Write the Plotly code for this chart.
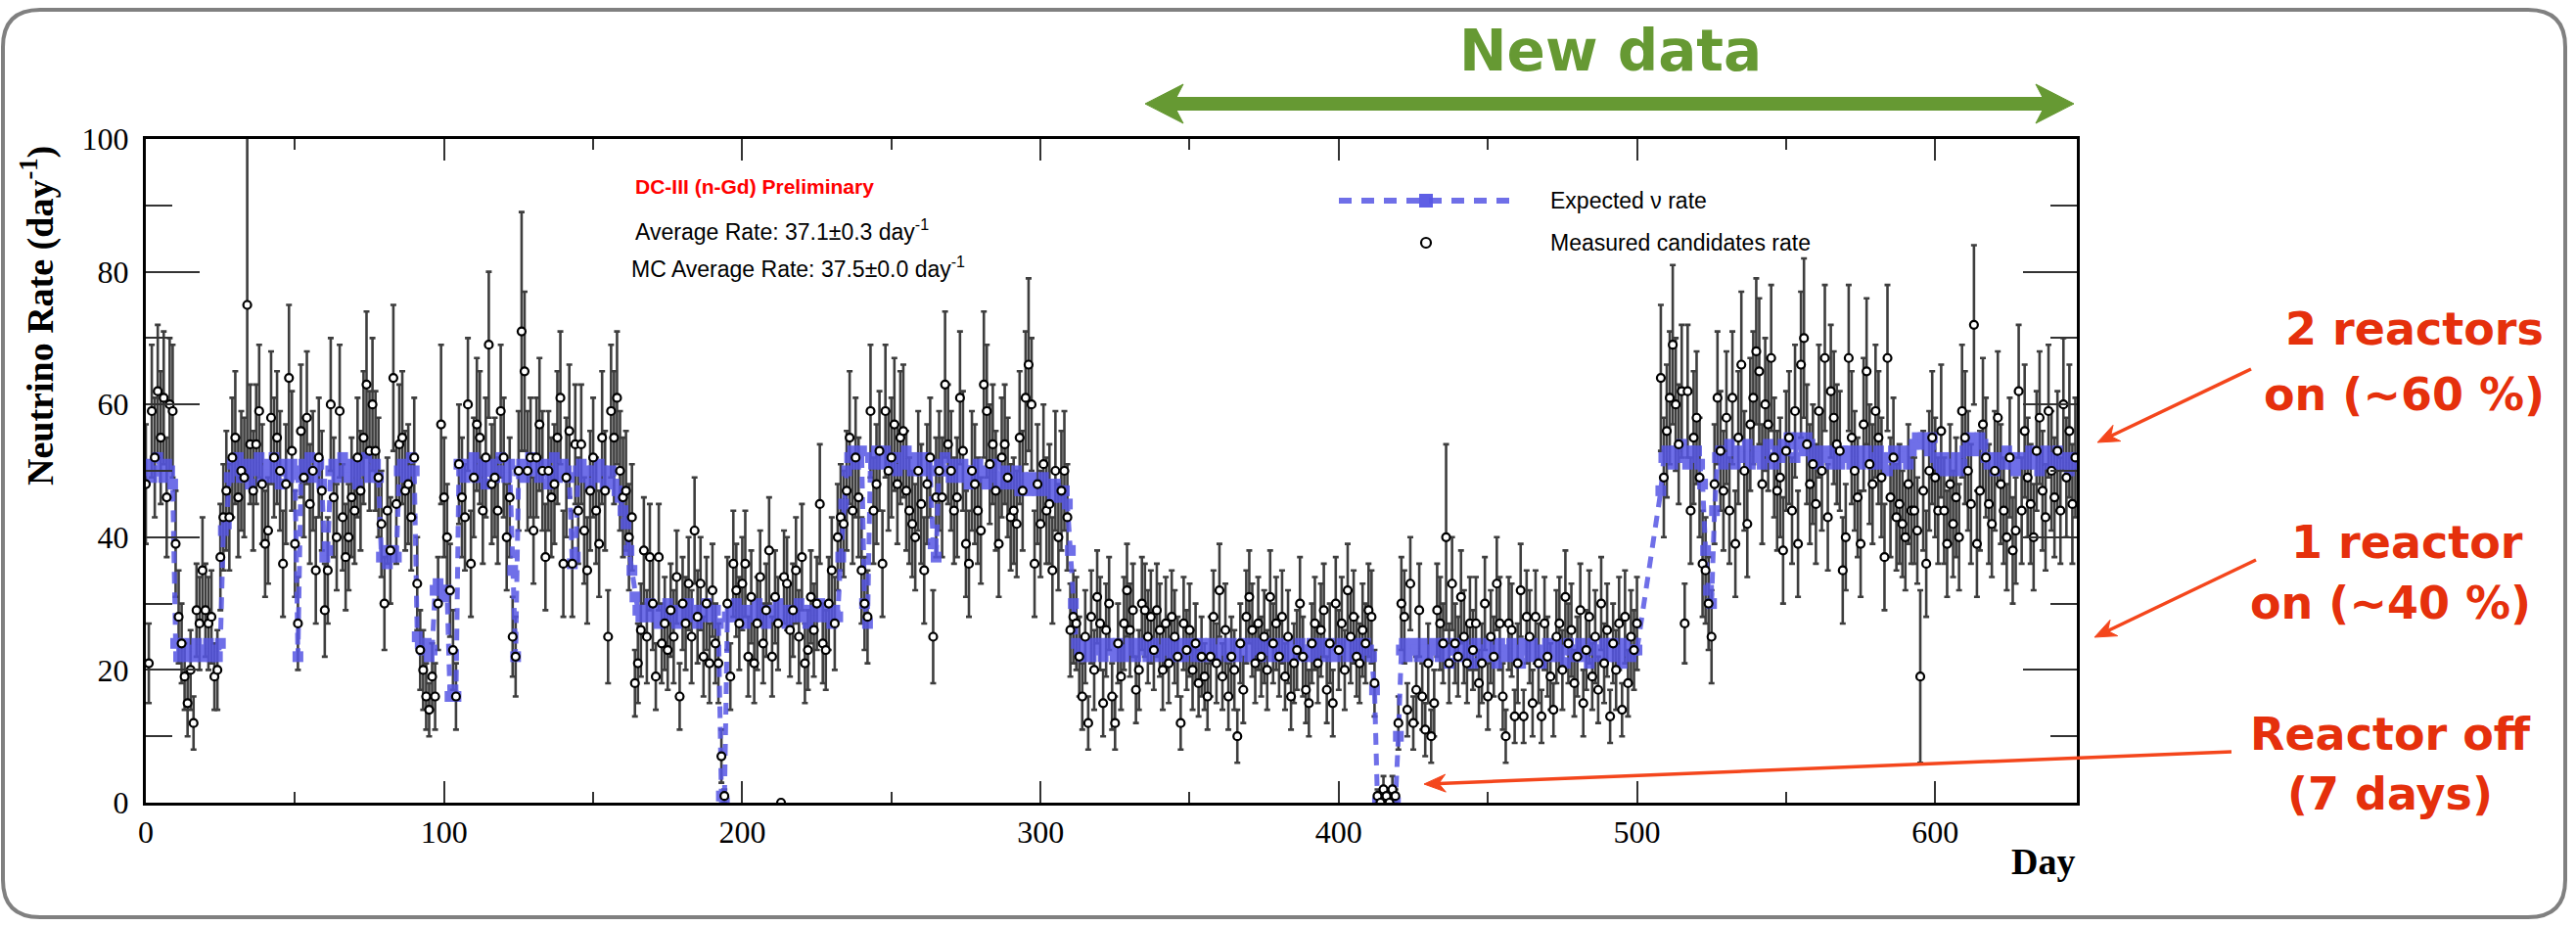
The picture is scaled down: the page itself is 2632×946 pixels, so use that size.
import math
import plotly.graph_objects as go

# ---------------- data ----------------
# measured candidate rate per day (None = no data)
measured = [
    48, 21, 59, 52, 62, 55, 61, 46, 60, 59,
    39, 28, 24, 19, 15, 20, 12, 29, 27, 35,
    29, 27, 28, 19, 20, 37, 43, 47, 43, 52,
    55, 46, 50, 49, 75, 54, 47, 54, 59, 48,
    39, 41, 58, 52, 55, 50, 36, 48, 64, 53,
    39, 27, 56, 49, 58, 45, 50, 35, 52, 47,
    29, 35, 60, 46, 40, 59, 43, 37, 40, 46,
    44, 52, 47, 55, 63, 53, 60, 53, 49, 42,
    30, 44, 38, 64, 45, 54, 55, 47, 48, 43,
    52, 33, 23, 20, 16, 14, 19, 16, 30, 57,
    46, 40, 32, 23, 16, 51, 46, 43, 60, 36,
    49, 57, 55, 44, 52, 69, 48, 49, 44, 59,
    52, 40, 46, 25, 22, 50, 71, 65, 50, 52,
    41, 52, 57, 50, 37, 50, 46, 48, 55, 61,
    36, 49, 56, 36, 54, 44, 54, 41, 35, 47,
    52, 44, 39, 55, 47, 25, 59, 55, 61, 50,
    46, 47, 40, 43, 18, 21, 26, 38, 25, 37,
    30, 19, 37, 24, 27, 23, 29, 25, 34, 16,
    30, 27, 33, 25, 41, 28, 33, 22, 30, 21,
    32, 24, 21, 7, 1, 30, 19, 36, 32, 27,
    33, 36, 22, 31, 21, 27, 34, 24, 29, 38,
    22, 31, 27, 0, 34, 33, 26, 29, 35, 25,
    37, 21, 23, 31, 26, 30, 45, 24, 23, 30,
    35, 27, 40, 43, 42, 47, 55, 44, 52, 46,
    35, 30, 28, 59, 44, 48, 53, 36, 59, 50,
    52, 57, 48, 55, 56, 47, 44, 42, 40, 50,
    45, 35, 48, 52, 25, 46, 50, 46, 63, 54,
    50, 44, 46, 61, 53, 39, 36, 50, 48, 44,
    41, 63, 59, 51, 54, 47, 39, 52, 54, 49,
    43, 44, 42, 55, 47, 61, 66, 60, 36, 48,
    42, 51, 44, 45, 35, 50, 40, 47, 50, 43,
    26, 28, 27, 22, 16, 25, 12, 28, 20, 31,
    27, 15, 26, 30, 16, 12, 24, 19, 27, 32,
    26, 29, 17, 20, 30, 29, 25, 28, 23, 29,
    26, 20, 27, 21, 28, 25, 22, 12, 27, 23,
    26, 20, 24, 18, 22, 19, 16, 22, 28, 21,
    32, 19, 26, 16, 22, 20, 10, 24, 17, 28,
    31, 26, 21, 27, 22, 25, 20, 31, 24, 27,
    22, 28, 19, 25, 16, 21, 23, 30, 22, 17,
    15, 24, 27, 21, 26, 29, 17, 24, 15, 30,
    23, 27, 20, 32, 25, 28, 22, 21, 26, 24,
    29, 28, 18, 1, 0, 2, 1, 0, 2, 1,
    12, 30, 28, 14, 33, 12, 17, 29, 16, 11,
    21, 10, 15, 29, 27, 24, 40, 21, 33, 24,
    22, 31, 25, 21, 27, 23, 27, 18, 21, 30,
    16, 25, 22, 33, 27, 16, 10, 27, 26, 13,
    21, 32, 13, 28, 25, 15, 28, 21, 13, 27,
    22, 19, 14, 25, 27, 20, 31, 24, 26, 18,
    22, 29, 15, 23, 28, 19, 25, 17, 30, 21,
    26, 13, 24, 20, 27, 14, 28, 18, 25, 23,
    27, None, None, None, None, None, None, None, 64, 49,
    56, 61, 69, 60, 54, 62, 27, 62, 44, 55,
    58, 49, 36, 35, 30, 25, 48, 61, 53, 47,
    58, 44, 61, 39, 55, 66, 50, 42, 57, 61,
    68, 65, 48, 60, 57, 67, 52, 47, 49, 38,
    53, 55, 44, 59, 39, 66, 70, 54, 48, 51,
    45, 59, 50, 67, 43, 62, 58, 54, 53, 35,
    40, 67, 55, 50, 46, 39, 57, 65, 51, 48,
    59, 55, 49, 37, 67, 46, 52, 43, 45, 42,
    40, 48, 44, 44, 41, 19, 47, 36, 50, 55,
    49, 44, 56, 44, 39, 48, 42, 46, 40, 59,
    55, 50, 45, 72, 39, 47, 57, 52, 45, 42,
    50, 58, 48, 44, 40, 52, 38, 41, 62, 44,
    56, 49, 45, 40, 53, 58, 47, 43, 59, 50,
    46, 53, 44, 60, 49, 56, 45, 52,
]

# statistical error of the measured rate per day
errors = [
    9, 6, 10, 9, 10, 10, 10, 9, 10, 10,
    8, 7, 6, 5, 5, 6, 4, 7, 7, 8,
    7, 7, 7, 5, 6, 8, 8, 9, 8, 9,
    10, 9, 9, 9, 26, 9, 9, 9, 10, 9,
    8, 8, 10, 9, 10, 9, 8, 9, 11, 9,
    8, 7, 10, 9, 10, 9, 9, 8, 9, 9,
    7, 8, 10, 9, 8, 10, 8, 8, 8, 9,
    8, 9, 9, 10, 11, 9, 10, 9, 9, 8,
    7, 8, 8, 11, 9, 9, 10, 9, 9, 8,
    9, 7, 6, 6, 5, 4, 5, 5, 7, 12,
    9, 8, 7, 6, 5, 9, 9, 8, 10, 8,
    9, 10, 10, 8, 9, 11, 9, 9, 8, 10,
    9, 8, 9, 6, 6, 9, 18, 12, 9, 9,
    8, 9, 10, 9, 8, 9, 9, 9, 10, 10,
    8, 9, 10, 8, 9, 8, 9, 8, 8, 9,
    9, 8, 8, 10, 9, 7, 10, 10, 10, 9,
    9, 9, 8, 8, 5, 6, 7, 8, 7, 8,
    7, 5, 8, 6, 7, 6, 7, 7, 7, 5,
    7, 7, 7, 7, 8, 7, 7, 6, 7, 6,
    7, 6, 6, 4, 1, 7, 5, 8, 7, 7,
    7, 8, 6, 7, 6, 7, 7, 6, 7, 8,
    6, 7, 7, 0, 7, 7, 7, 7, 8, 7,
    8, 6, 6, 7, 7, 7, 9, 6, 6, 7,
    8, 7, 8, 8, 8, 9, 10, 8, 9, 9,
    8, 7, 7, 10, 8, 9, 9, 8, 10, 9,
    9, 10, 9, 10, 10, 9, 8, 8, 8, 9,
    9, 8, 9, 9, 7, 9, 9, 9, 11, 9,
    9, 8, 9, 10, 9, 8, 8, 9, 9, 8,
    8, 11, 10, 9, 9, 9, 8, 9, 9, 9,
    8, 8, 8, 10, 9, 10, 13, 10, 8, 9,
    8, 9, 8, 9, 8, 9, 8, 9, 9, 8,
    7, 7, 7, 6, 5, 7, 4, 7, 6, 7,
    7, 5, 7, 7, 5, 4, 6, 5, 7, 7,
    7, 7, 5, 6, 7, 7, 7, 7, 6, 7,
    7, 6, 7, 6, 7, 7, 6, 4, 7, 6,
    7, 6, 6, 5, 6, 5, 5, 6, 7, 6,
    7, 5, 7, 5, 6, 6, 4, 6, 5, 7,
    7, 7, 6, 7, 6, 7, 6, 7, 6, 7,
    6, 7, 5, 7, 5, 6, 6, 7, 6, 5,
    5, 6, 7, 6, 7, 7, 5, 6, 5, 7,
    6, 7, 6, 7, 7, 7, 6, 6, 7, 6,
    7, 7, 5, 1, 1, 2, 1, 1, 2, 1,
    4, 7, 7, 4, 7, 4, 5, 7, 5, 4,
    6, 4, 5, 7, 7, 6, 14, 6, 7, 6,
    6, 7, 7, 6, 7, 6, 7, 5, 6, 7,
    5, 7, 6, 7, 7, 5, 4, 7, 7, 4,
    6, 7, 4, 7, 7, 5, 7, 6, 4, 7,
    6, 5, 4, 7, 7, 6, 7, 6, 7, 5,
    6, 7, 5, 6, 7, 5, 7, 5, 7, 6,
    7, 4, 6, 6, 7, 4, 7, 5, 7, 6,
    7, None, None, None, None, None, None, None, 11, 9,
    10, 10, 12, 10, 9, 10, 6, 10, 8, 10,
    10, 9, 8, 8, 7, 7, 9, 10, 9, 9,
    10, 8, 10, 8, 10, 11, 9, 8, 10, 10,
    11, 11, 9, 10, 10, 11, 9, 9, 9, 8,
    9, 10, 8, 10, 8, 11, 12, 9, 9, 9,
    9, 10, 9, 11, 8, 10, 10, 9, 9, 8,
    8, 11, 10, 9, 9, 8, 10, 11, 9, 9,
    10, 10, 9, 8, 11, 9, 9, 8, 9, 8,
    8, 9, 8, 8, 8, 13, 9, 8, 9, 10,
    9, 8, 10, 8, 8, 9, 8, 9, 8, 10,
    10, 9, 9, 12, 8, 9, 10, 9, 9, 8,
    9, 10, 9, 8, 8, 9, 8, 8, 10, 8,
    10, 9, 9, 8, 9, 10, 9, 8, 10, 9,
    9, 9, 8, 10, 9, 10, 9, 9,
]

# expected (MC) neutrino rate per day
expected = [
    50, 51, 49, 50, 52, 50, 49, 51, 50, 48,
    24, 22, 23, 24, 22, 23, 22, 24, 23, 22,
    23, 24, 22, 23, 22, 24, 41, 42, 49, 51,
    50, 52, 49, 51, 50, 48, 51, 50, 52, 49,
    50, 51, 49, 52, 50, 48, 51, 50, 49, 51,
    50, 22, 49, 51, 50, 52, 49, 50, 51, 48,
    37, 38, 50, 51, 49, 50, 52, 50, 49, 51,
    50, 48, 51, 50, 52, 49, 50, 51, 49, 37,
    38, 36, 37, 38, 37, 50, 51, 49, 50, 52,
    50, 25, 24, 23, 24, 22, 23, 32, 33, 32,
    31, 32, 16, 17, 16, 51, 50, 49, 51, 50,
    52, 49, 50, 51, 48, 50, 51, 49, 50, 52,
    50, 49, 51, 35, 22, 50, 51, 49, 50, 52,
    50, 51, 49, 50, 51, 48, 50, 52, 49, 50,
    51, 50, 49, 36, 37, 50, 51, 49, 50, 48,
    50, 49, 51, 50, 48, 49, 50, 48, 47, 46,
    44, 42, 38, 35, 31, 29, 28, 29, 28, 30,
    29, 28, 27, 29, 28, 30, 28, 29, 27, 28,
    29, 28, 30, 29, 28, 27, 29, 28, 30, 29,
    28, 29, 27, 1, 0, 28, 29, 28, 30, 28,
    29, 27, 28, 29, 28, 30, 29, 28, 27, 29,
    28, 29, 30, 28, 29, 27, 28, 29, 28, 30,
    29, 28, 27, 29, 28, 29, 30, 28, 29, 28,
    27, 29, 28, 37, 45, 50, 52, 53, 51, 52,
    53, 30, 27, 52, 51, 53, 52, 51, 53, 52,
    51, 52, 50, 52, 51, 53, 51, 50, 52, 51,
    50, 52, 51, 50, 39, 37, 51, 50, 52, 50,
    49, 51, 50, 49, 51, 50, 48, 50, 49, 51,
    50, 49, 48, 50, 49, 51, 48, 49, 50, 48,
    49, 48, 50, 47, 49, 48, 47, 49, 48, 47,
    48, 49, 47, 48, 46, 48, 47, 46, 47, 45,
    38, 30, 24, 23, 22, 24, 23, 22, 24, 23,
    24, 22, 23, 24, 23, 22, 24, 23, 22, 23,
    24, 23, 22, 24, 23, 24, 22, 23, 24, 23,
    22, 23, 24, 23, 22, 24, 23, 24, 22, 23,
    24, 23, 22, 23, 24, 22, 23, 24, 23, 22,
    23, 24, 23, 22, 24, 23, 22, 23, 24, 23,
    22, 24, 23, 24, 22, 23, 24, 23, 22, 23,
    24, 23, 22, 24, 23, 22, 23, 24, 23, 22,
    23, 24, 22, 23, 24, 23, 22, 24, 23, 22,
    23, 24, 23, 22, 24, 23, 24, 22, 23, 24,
    23, 22, 17, 0, 0, 0, 0, 0, 0, 0,
    10, 23, 24, 22, 23, 24, 23, 22, 24, 23,
    22, 23, 24, 23, 22, 24, 23, 21, 23, 24,
    22, 23, 24, 22, 23, 21, 24, 23, 22, 23,
    24, 22, 23, 21, 24, 23, 22, 23, 24, 22,
    23, 21, 24, 23, 22, 24, 23, 22, 21, 23,
    24, 22, 23, 24, 22, 23, 21, 24, 23, 22,
    23, 24, 22, 23, 21, 24, 23, 22, 23, 24,
    22, 23, 24, 22, 23, 21, 24, 23, 22, 23,
    23, None, None, None, None, None, None, None, 47, 52,
    53, 52, 51, 53, 52, 54, 52, 51, 53, 52,
    53, 51, 48, 38, 32, 30, 44, 52, 53, 51,
    52, 54, 53, 51, 52, 53, 52, 54, 51, 52,
    53, 52, 51, 53, 54, 52, 51, 53, 52, 54,
    53, 55, 54, 52, 55, 54, 53, 55, 54, 52,
    53, 51, 52, 53, 52, 51, 53, 52, 51, 53,
    52, 53, 51, 52, 53, 51, 52, 53, 52, 51,
    52, 53, 51, 52, 50, 52, 53, 51, 52, 53,
    52, 51, 53, 54, 55, 54, 55, 54, 53, 55,
    52, 51, 50, 52, 51, 50, 51, 52, 50, 51,
    53, 54, 55, 53, 54, 55, 54, 52, 51, 52,
    50, 51, 52, 51, 53, 52, 51, 50, 52, 51,
    52, 51, 53, 52, 51, 50, 52, 53, 51, 52,
    51, 53, 52, 51, 52, 50, 52, 51,
]

days = list(range(len(measured)))

x_ticks = [0, 100, 200, 300, 400, 500, 600]
y_ticks = [0, 20, 40, 60, 80, 100]

# ---------------- layout geometry (pixels) ----------------
FIG_W, FIG_H = 2632, 946
L, R, T, B = 149, 2122, 142, 820
PW, PH = R - L, B - T


def px(x):
    return (x - L) / PW


def py(y):
    return (B - y) / PH


BLUE = "#5656e4"
GREEN = "#669933"
RED_TXT = "#e5300c"
RED_ARR = "#f4461c"

fig = go.Figure()

# error bars (drawn first)
fig.add_trace(go.Scatter(
    x=days, y=measured, mode="markers",
    marker=dict(size=2, color="rgba(0,0,0,0)"),
    error_y=dict(type="data", array=errors, visible=True,
                 color="#3e3e3e", thickness=2.6, width=3),
    showlegend=False, hoverinfo="skip",
))

# expected rate
fig.add_trace(go.Scatter(
    x=days, y=expected, mode="lines+markers", connectgaps=True,
    line=dict(color=BLUE, width=5, dash="12px,9px"),
    marker=dict(symbol="square", size=11, color=BLUE),
    opacity=0.85, showlegend=False,
))

# measured points
fig.add_trace(go.Scatter(
    x=days, y=measured, mode="markers",
    marker=dict(symbol="circle", size=8, color="white",
                line=dict(color="black", width=2.2)),
    showlegend=False,
))

axis_common = dict(
    showline=True, linecolor="black", linewidth=3, mirror="allticks",
    ticks="inside", tickwidth=2, tickcolor="#333333",
    showgrid=False, zeroline=False,
    tickfont=dict(family="Liberation Serif", size=32, color="black"),
)

fig.update_xaxes(range=[0, 647.5], tickvals=x_ticks, ticklen=22,
                 minor=dict(dtick=50, tick0=0, ticklen=11, tickwidth=2,
                            tickcolor="#333333", ticks="inside", showgrid=False),
                 **axis_common)
fig.update_yaxes(range=[0, 100], tickvals=y_ticks, ticklen=55,
                 ticklabelstandoff=8,
                 minor=dict(dtick=10, tick0=0, ticklen=27, tickwidth=2,
                            tickcolor="#333333", ticks="inside", showgrid=False),
                 **axis_common)

shapes = []

# outer rounded frame
x0, y0, x1, y1, rr = 3, 10, 2621, 937, 38
frame_path = (
    f"M {px(x0 + rr)},{py(y0)} L {px(x1 - rr)},{py(y0)} "
    f"Q {px(x1)},{py(y0)} {px(x1)},{py(y0 + rr)} "
    f"L {px(x1)},{py(y1 - rr)} Q {px(x1)},{py(y1)} {px(x1 - rr)},{py(y1)} "
    f"L {px(x0 + rr)},{py(y1)} Q {px(x0)},{py(y1)} {px(x0)},{py(y1 - rr)} "
    f"L {px(x0)},{py(y0 + rr)} Q {px(x0)},{py(y0)} {px(x0 + rr)},{py(y0)} Z"
)
shapes.append(dict(type="path", xref="paper", yref="paper", path=frame_path,
                   line=dict(color="#808080", width=4), layer="below"))

# green double arrow
pts = [(1170, 106), (1209, 86), (1202, 99.5), (2087, 99.5), (2080, 86),
       (2119, 106), (2080, 126), (2087, 112.5), (1202, 112.5), (1209, 126)]
arrow_path = "M " + " L ".join(f"{px(a)},{py(b)}" for a, b in pts) + " Z"
shapes.append(dict(type="path", xref="paper", yref="paper", path=arrow_path,
                   fillcolor=GREEN, line=dict(color=GREEN, width=1)))

# red arrows (line + barbed head)
for (tx, ty, hx, hy) in [(2300, 377, 2143, 452), (2305, 572, 2140, 651),
                         (2280, 768, 1455, 801)]:
    dx, dy = tx - hx, ty - hy
    ln = math.hypot(dx, dy)
    ux, uy = dx / ln, dy / ln          # unit vector head -> tail
    nx, ny = -uy, ux                   # normal
    hl, hw, notch = 22, 9, 15
    bx, by = hx + ux * hl, hy + uy * hl
    mx, my = hx + ux * notch, hy + uy * notch
    shapes.append(dict(type="line", xref="paper", yref="paper",
                       x0=px(tx), y0=py(ty), x1=px(mx), y1=py(my),
                       line=dict(color=RED_ARR, width=3.5)))
    head = [(hx, hy), (bx + nx * hw, by + ny * hw), (mx, my),
            (bx - nx * hw, by - ny * hw)]
    hp = "M " + " L ".join(f"{px(a)},{py(b)}" for a, b in head) + " Z"
    shapes.append(dict(type="path", xref="paper", yref="paper", path=hp,
                       fillcolor=RED_ARR, line=dict(color=RED_ARR, width=1)))

# legend: dashed line + square, circle
shapes.append(dict(type="line", xref="paper", yref="paper",
                   x0=px(1368), x1=px(1547), y0=py(205), y1=py(205),
                   line=dict(color=BLUE, width=6, dash="13px,10px"),
                   opacity=0.85))
shapes.append(dict(type="rect", xref="paper", yref="paper",
                   x0=px(1450), x1=px(1464), y0=py(198), y1=py(212),
                   fillcolor=BLUE, line=dict(width=0), opacity=0.95))
shapes.append(dict(type="circle", xref="paper", yref="paper",
                   x0=px(1452), x1=px(1462), y0=py(243), y1=py(253),
                   fillcolor="white", line=dict(color="black", width=2.2)))

annotations = []


def text(x, y, s, size, color="black", family="Liberation Sans",
         xanchor="left", bold=False, angle=0):
    if bold:
        s = f"<b>{s}</b>"
    annotations.append(dict(
        xref="paper", yref="paper", x=px(x), y=py(y), text=s,
        showarrow=False, xanchor=xanchor, yanchor="middle",
        textangle=angle,
        font=dict(family=family, size=size, color=color)))


text(1645, 52, "New data", 58, GREEN, "DejaVu Sans", "center", bold=True)

text(647, 190, "DC-III (n-Gd) Preliminary", 21, "#ff0000", bold=True)
text(647, 235, "Average Rate: 37.1\u00b10.3 day<sup>-1</sup>", 23)
text(643, 273, "MC Average Rate: 37.5\u00b10.0 day<sup>-1</sup>", 23)

text(1582, 205, "Expected \u03bd rate", 23)
text(1582, 248, "Measured candidates rate", 23)

text(38, 323, "Neutrino Rate (day<sup>-1</sup>)", 38, "black",
     "Liberation Serif", "center", bold=True, angle=-90)
text(2087, 880, "Day", 38, "black", "Liberation Serif", "center", bold=True)

for (cx, cy, s) in [(2467, 336, "2 reactors"), (2456, 403, "on (~60 %)"),
                    (2459, 554, "1 reactor"), (2442, 616, "on (~40 %)"),
                    (2442, 750, "Reactor off"), (2442, 811, "(7 days)")]:
    text(cx, cy, s, 46, RED_TXT, "DejaVu Sans", "center", bold=True)

fig.update_layout(
    width=FIG_W, height=FIG_H,
    margin=dict(l=L, r=FIG_W - R, t=T, b=FIG_H - B, autoexpand=False),
    paper_bgcolor="white", plot_bgcolor="white",
    shapes=shapes, annotations=annotations, showlegend=False,
)

fig.write_html("out.html")
